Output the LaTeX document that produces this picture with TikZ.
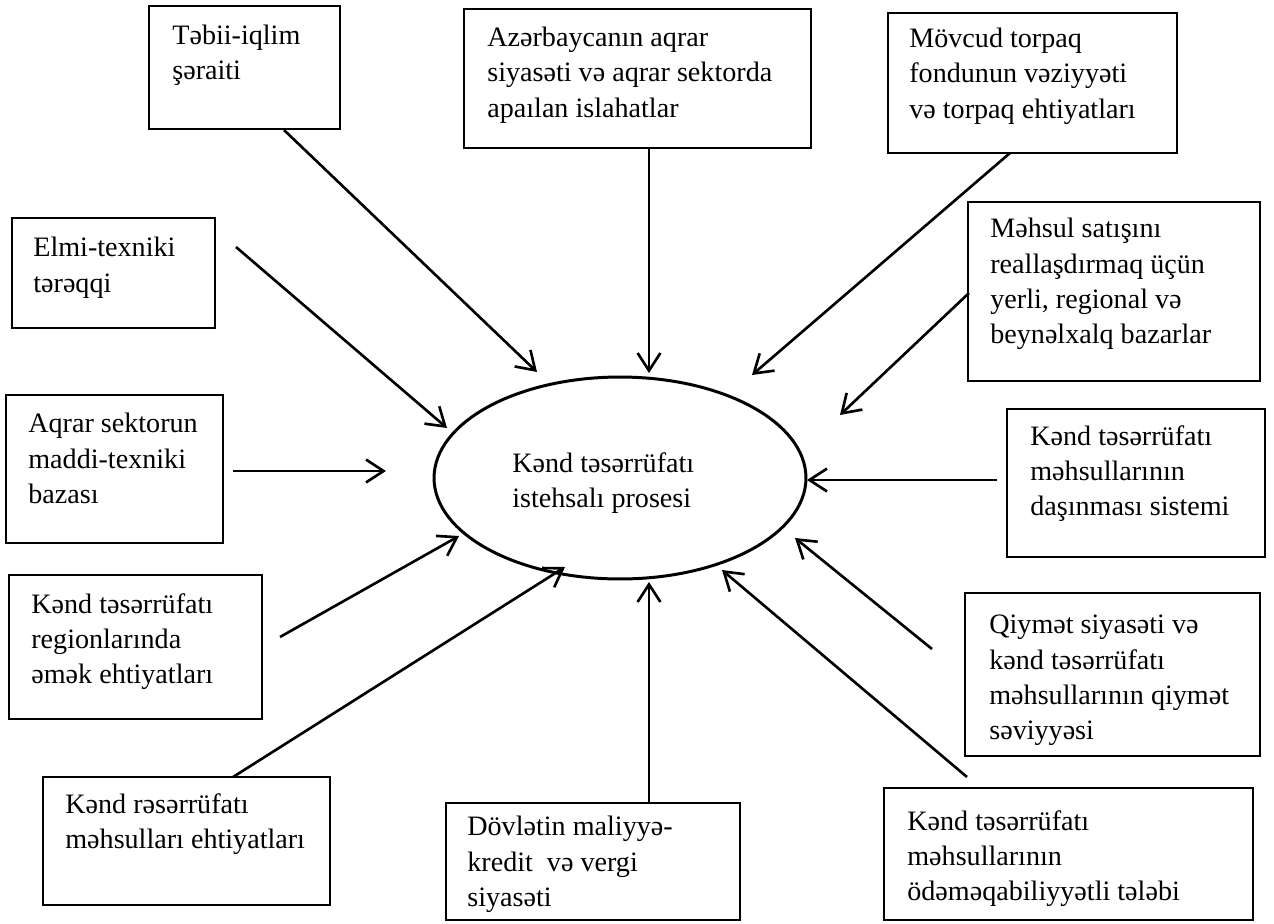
\documentclass[tikz,border=0pt]{standalone}
\usepackage{fontspec}
\setmainfont{Liberation Serif}
\usetikzlibrary{arrows.meta,shapes.geometric,fit,calc}
\tikzset{
  boxnode/.style={draw, line width=1.1pt, inner sep=0pt, fit={#1}},
  txt/.style={anchor=north west, inner sep=0pt, align=left, font=\fontsize{16}{20}\selectfont},
  arr/.style={line width=1.5pt, -{Straight Barb[length=10pt,width=13pt,line width=1.5pt]}},
  centre/.style={draw, ellipse, line width=1.7pt, inner sep=0pt, minimum width=7.44cm, minimum height=4.04cm}
}
\begin{document}
\begin{tikzpicture}[x=0.02cm,y=-0.02cm]
\useasboundingbox (0,0) rectangle (1274,923);
\fill[white] (0,0) rectangle (1274,923);

% boxes
\node[boxnode={(149,6) (340,129)}] (tb) {};
\node[txt] (tbt) at (172,25) {Təbii-iqlim\\şəraiti};

\node[boxnode={(464,9) (811,148)}] (az) {};
\node[txt] (azt) at (487,27) {Azərbaycanın aqrar\\siyasəti və aqrar sektorda\\apaılan islahatlar};

\node[boxnode={(888,13) (1177,153)}] (mv) {};
\node[txt] (mvt) at (909,28) {Mövcud torpaq\\fondunun vəziyyəti\\və torpaq ehtiyatları};

\node[boxnode={(12,218) (215,328)}] (el) {};
\node[txt] (elt) at (33,237) {Elmi-texniki\\tərəqqi};

\node[boxnode={(968,202) (1260,381)}] (ms) {};
\node[txt] (mst) at (990,218) {Məhsul satışını\\reallaşdırmaq üçün\\yerli, regional və\\beynəlxalq bazarlar};

\node[boxnode={(6,395) (223,543)}] (aq) {};
\node[txt] (aqt) at (28,413) {Aqrar sektorun\\maddi-texniki\\bazası};

\node[boxnode={(1007,409) (1265,557)}] (ds) {};
\node[txt] (dst) at (1030,425) {Kənd təsərrüfatı\\məhsullarının\\daşınması sistemi};

\node[boxnode={(9,575) (262,719)}] (rg) {};
\node[txt] (rgt) at (31,593) {Kənd təsərrüfatı\\regionlarında\\əmək ehtiyatları};

\node[boxnode={(965,593) (1260,756)}] (qy) {};
\node[txt] (qyt) at (989,615) {Qiymət siyasəti və\\kənd təsərrüfatı\\məhsullarının qiymət\\səviyyəsi};

\node[boxnode={(43,777) (330,905)}] (rs) {};
\node[txt] (rst) at (65,793) {Kənd rəsərrüfatı\\məhsulları ehtiyatları};

\node[boxnode={(446,803) (740,920)}] (dv) {};
\node[txt] (dvt) at (467,816) {Dövlətin maliyyə-\\kredit\ \ və vergi\\siyasəti};

\node[boxnode={(884,788) (1253,920)}] (od) {};
\node[txt] (odt) at (907,810) {Kənd təsərrüfatı\\məhsullarının\\ödəməqabiliyyətli tələbi};

% centre
\node[centre] (c) at (620,478) {};
\node[txt] (ct) at (512,452) {Kənd təsərrüfatı\\istehsalı prosesi};

% connector end points
\coordinate (s1) at (284,130);  \coordinate (e1) at (537,372);
\coordinate (s2) at (649,148);  \coordinate (e2) at (649,373);
\coordinate (s3) at (1010,153); \coordinate (e3) at (752,375);
\coordinate (s4) at (236,247);  \coordinate (e4) at (447,428);
\coordinate (s5) at (969,293);  \coordinate (e5) at (840,415);
\coordinate (s6) at (233,471);  \coordinate (e6) at (386,471);
\coordinate (s7) at (997,480);  \coordinate (e7) at (807,480);
\coordinate (s8) at (280,637);  \coordinate (e8) at (459,536);
\coordinate (s9) at (932,649);  \coordinate (e9) at (795,538);
\coordinate (s10) at (233,777); \coordinate (e10) at (565,567);
\coordinate (s11) at (649,803); \coordinate (e11) at (649,582);
\coordinate (s12) at (967,777); \coordinate (e12) at (722,570);

\foreach \i in {1,...,12} { \draw[arr] (s\i) -- (e\i); }
\end{tikzpicture}
\end{document}
